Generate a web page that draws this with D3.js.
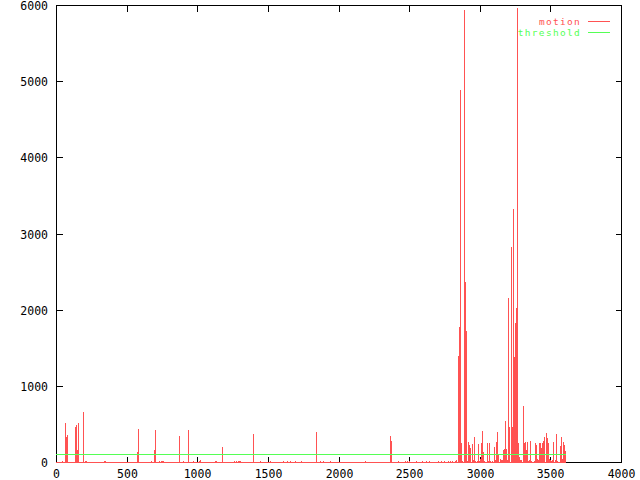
<!DOCTYPE html>
<html>
<head>
<meta charset="utf-8">
<script src="https://cdn.jsdelivr.net/npm/d3@7"></script>
<style>
  html, body { margin: 0; padding: 0; background: #fff; }
  svg { display: block; }
  text { font-family: "DejaVu Sans Mono", "Liberation Mono", monospace; font-size: 11.5px; }
  text.legend { font-size: 9.5px; letter-spacing: 1.3px; }
</style>
</head>
<body>
<svg id="chart" width="640" height="480"></svg>
<script>
// ---- data ----
const frames = [0, 46, 67, 74, 81, 134, 145, 152, 159, 188, 202, 209, 343, 350, 570, 577, 584, 676, 697, 704,
  732, 740, 747, 754, 874, 896, 931, 938, 973, 1009, 1016, 1023, 1129, 1136, 1172, 1257, 1271, 1285, 1299, 1306,
  1398, 1441, 1512, 1604, 1632, 1660, 1689, 1738, 1844, 1866, 1887, 1943, 2191, 2368, 2375, 2424, 2474, 2488, 2502,
  2552, 2594, 2616, 2644, 2701, 2729, 2750, 2772, 2786, 2807, 2828, 2835,
  2843, 2850, 2857, 2864, 2871, 2885, 2892, 2899, 2906, 2913, 2920, 2927, 2934, 2942, 2949, 2956, 2963, 2977, 2991,
  2998, 3005, 3012, 3019, 3026, 3033, 3048, 3055, 3069, 3076, 3090, 3104, 3111, 3118, 3125, 3132, 3140, 3147, 3154, 3161, 3168,
  3175, 3182, 3189, 3196, 3203, 3210, 3218, 3225, 3232, 3239, 3246, 3253, 3260, 3267, 3274, 3281, 3288, 3295, 3303,
  3310, 3317, 3324, 3331, 3338, 3345, 3352, 3359, 3366, 3381, 3388, 3395, 3402, 3409, 3416, 3423, 3430, 3437, 3444, 3451, 3458,
  3466, 3473, 3480, 3487, 3494, 3501, 3515, 3522, 3536, 3543, 3550, 3565, 3572, 3579, 3586, 3593, 3600, 3607];
const motion = [0, 15, 513, 329, 355, 461, 487, 158, 513, 658, 15, 12, 15, 10, 132, 434, 26, 15, 158, 421,
  12, 12, 10, 12, 342, 15, 421, 329, 10, 15, 25, 12, 12, 10, 197, 12, 10, 15, 10, 12,
  368, 12, 10, 12, 15, 10, 12, 10, 400, 15, 10, 12, 10, 346, 270, 12, 12, 15, 10,
  12, 12, 15, 12, 15, 12, 10, 12, 15, 12, 15, 25,
  1395, 1776, 4886, 250, 10, 2886, 5934, 2368, 1724, 15, 263, 224, 184, 237, 20, 329, 10, 10, 237,
  15, 40, 250, 408, 132, 12, 250, 10, 250, 15, 10, 197, 20, 263, 395, 92, 40, 20, 10, 30, 158,
  167, 540, 167, 30, 2158, 460, 2829, 461, 3316, 382, 1382, 1829, 2026, 5960, 250, 60, 30, 20, 737,
  250, 263, 158, 263, 20, 10, 30, 276, 15, 10, 250, 217, 40, 25, 250, 20, 250, 180, 250, 276, 329,
  382, 316, 250, 40, 20, 15, 30, 263, 20, 369, 15, 206, 329, 40, 263, 217, 150, 60];
const threshold = 100;
const xTicks = [0, 500, 1000, 1500, 2000, 2500, 3000, 3500, 4000];
const yTicks = [0, 1000, 2000, 3000, 4000, 5000, 6000];
const seriesNames = ["motion", "threshold"];
const seriesColors = ["#ff5252", "#55ff55"];

// ---- layout ----
const L = 56, R = 621, T = 5, B = 462;
const svg = d3.select("#chart");
const x = d3.scaleLinear().domain([0, 4000]).range([L + 0.5, R + 0.5]);
const y = d3.scaleLinear().domain([0, 6000]).range([B + 0.5, T + 0.5]);

const g = svg.append("g").attr("shape-rendering", "crispEdges");

// border
g.append("rect").attr("x", L + 0.5).attr("y", T + 0.5).attr("width", R - L).attr("height", B - T)
  .attr("fill", "none").attr("stroke", "#000").attr("stroke-width", 1);

// ticks (mirrored, inward)
const tl = 6;
xTicks.forEach(t => {
  const px = Math.round(x(t) - 0.5) + 0.5;
  g.append("line").attr("x1", px).attr("x2", px).attr("y1", B + 0.5).attr("y2", B + 0.5 - tl).attr("stroke", "#000");
  g.append("line").attr("x1", px).attr("x2", px).attr("y1", T + 0.5).attr("y2", T + 0.5 + tl).attr("stroke", "#000");
  svg.append("text").attr("x", px).attr("y", 478).attr("text-anchor", "middle").attr("fill", "#000").text(t);
});
yTicks.forEach(t => {
  const py = Math.round(y(t) - 0.5) + 0.5;
  g.append("line").attr("x1", L + 0.5).attr("x2", L + 0.5 + tl).attr("y1", py).attr("y2", py).attr("stroke", "#000");
  g.append("line").attr("x1", R + 0.5).attr("x2", R + 0.5 - tl).attr("y1", py).attr("y2", py).attr("stroke", "#000");
  svg.append("text").attr("x", 48).attr("y", py + 4).attr("text-anchor", "end").attr("fill", "#000").text(t);
});

// motion impulses
const data = frames.map((f, i) => ({ f, v: motion[i] }));
const fExt = d3.extent(frames);
g.append("line")
  .attr("x1", Math.floor(x(fExt[0]))).attr("x2", Math.floor(x(fExt[1])) + 1)
  .attr("y1", B + 0.5).attr("y2", B + 0.5)
  .attr("stroke", seriesColors[0]);
g.selectAll("rect.imp").data(data).enter().append("rect")
  .attr("class", "imp")
  .attr("x", d => Math.floor(x(d.f)))
  .attr("width", 1)
  .attr("y", d => Math.round(y(d.v) - 0.5))
  .attr("height", d => Math.max(1, B + 1 - Math.round(y(d.v) - 0.5)))
  .attr("fill", seriesColors[0]);

// threshold line
const ty = Math.round(y(threshold) - 0.5) + 0.5;
g.append("line")
  .attr("x1", Math.floor(x(fExt[0]))).attr("x2", Math.floor(x(fExt[1])) + 1)
  .attr("y1", ty).attr("y2", ty)
  .attr("stroke", seriesColors[1]);

// legend
seriesNames.forEach((name, i) => {
  const ly = 21.5 + i * 11;
  svg.append("text").attr("class", "legend").attr("x", 581).attr("y", ly + 3.5).attr("text-anchor", "end")
    .attr("fill", seriesColors[i]).text(name);
  g.append("line").attr("x1", 588).attr("x2", 610).attr("y1", ly).attr("y2", ly)
    .attr("stroke", seriesColors[i]);
});
</script>
</body>
</html>
